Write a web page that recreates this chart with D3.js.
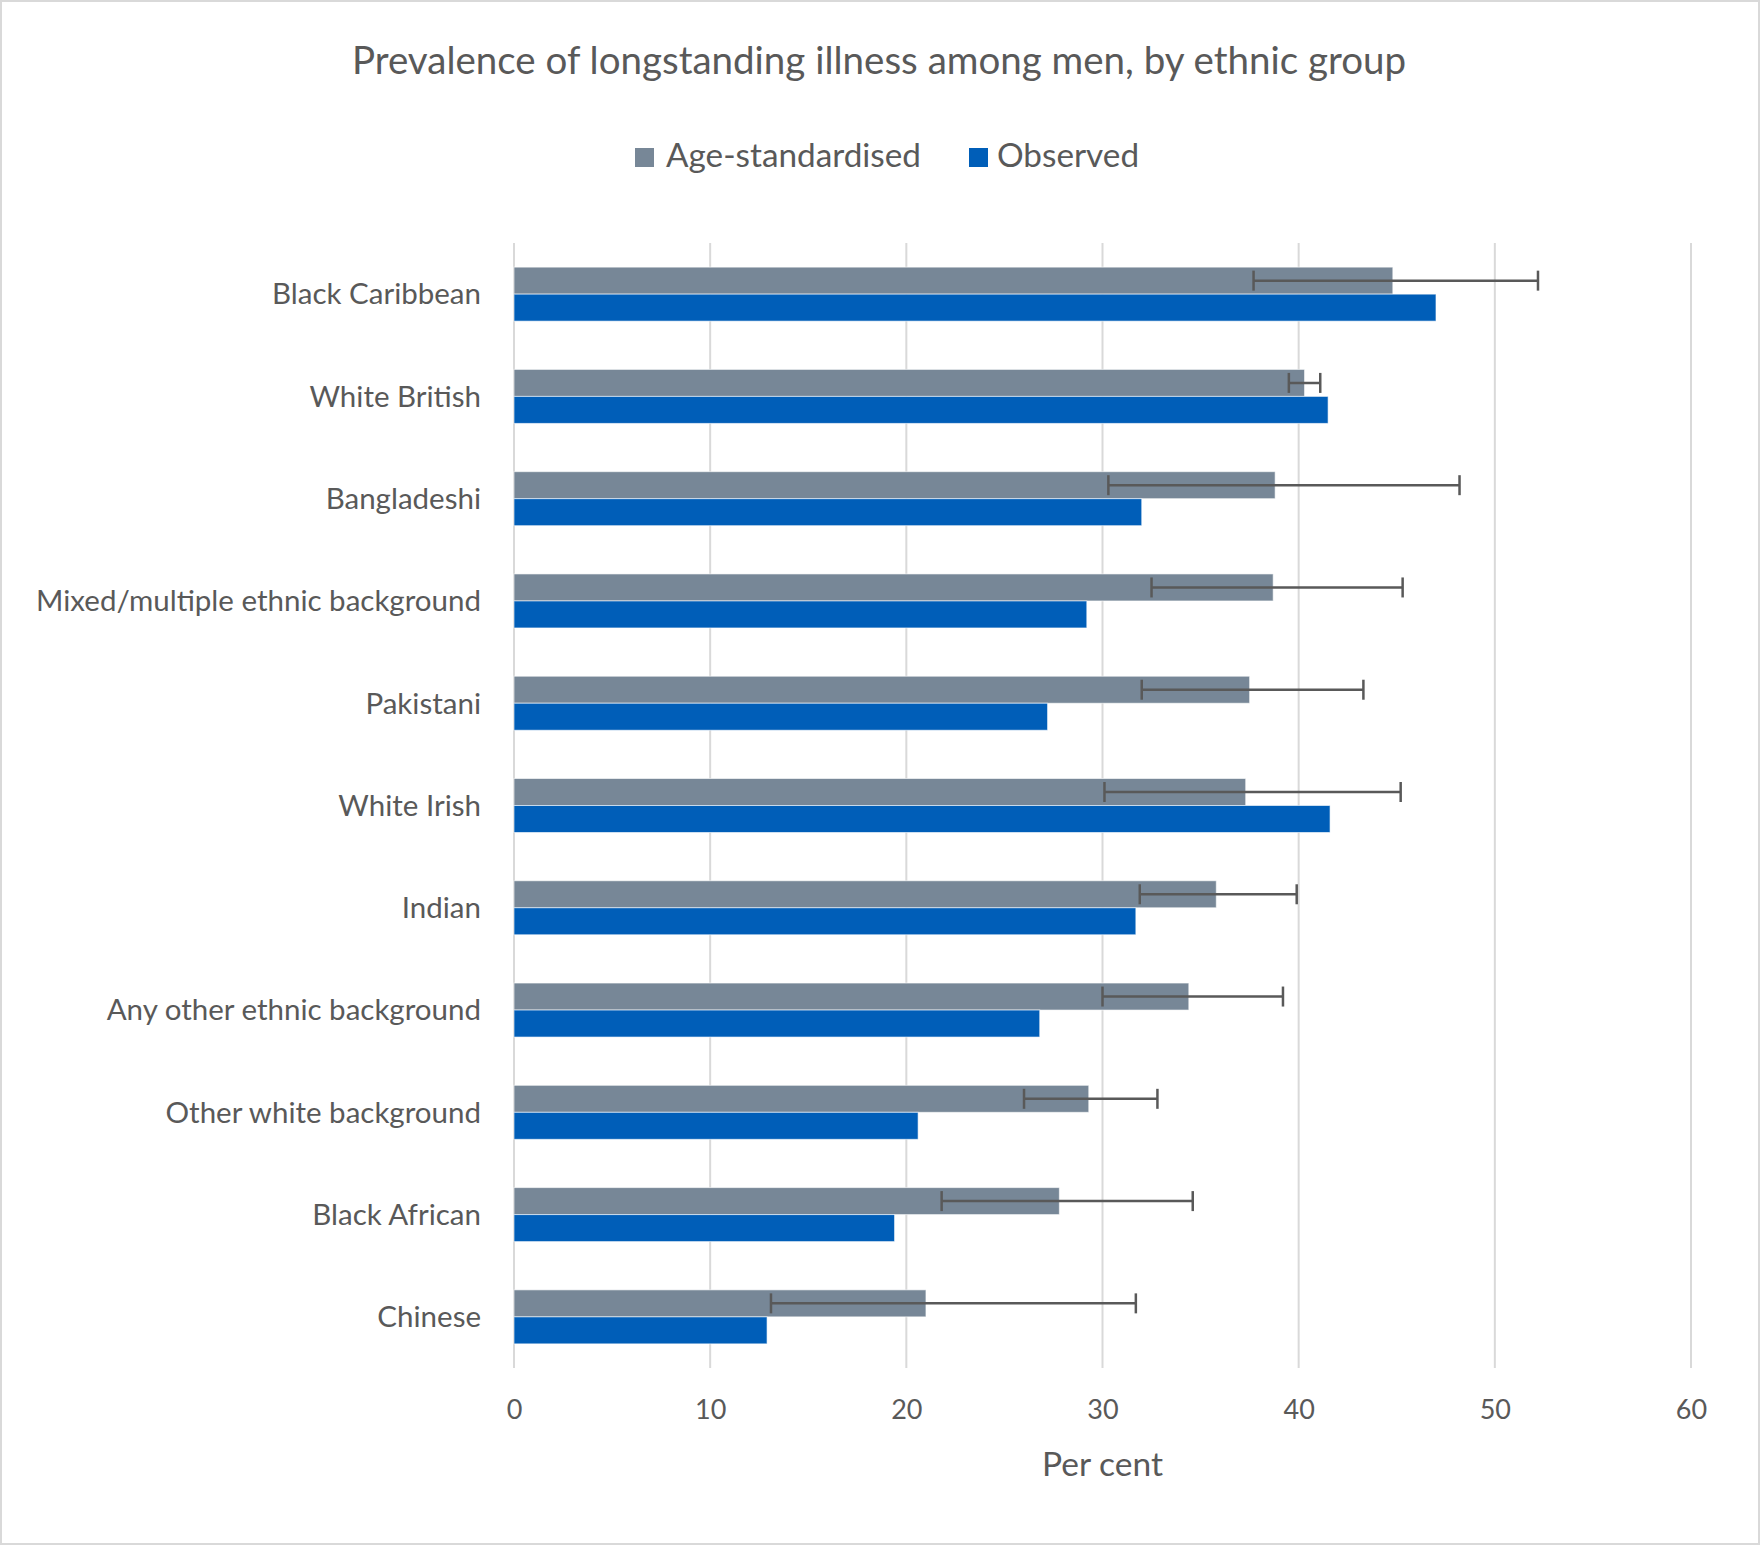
<!DOCTYPE html>
<html>
<head>
<meta charset="utf-8">
<script src="https://cdn.jsdelivr.net/npm/d3@7"></script>
<style>
  html, body { margin: 0; padding: 0; background: #fff; }
  svg { display: block; }
  text { font-family: Lato, "Open Sans", sans-serif; fill: #595959; }
</style>
</head>
<body>
<svg id="chart" width="1760" height="1545"></svg>
<script>
const categories = [
  "Black Caribbean", "White British", "Bangladeshi", "Mixed/multiple ethnic background",
  "Pakistani", "White Irish", "Indian", "Any other ethnic background",
  "Other white background", "Black African", "Chinese"
];
const seriesNames = ["Age-standardised", "Observed"];
const ageStandardised = [44.8, 40.3, 38.8, 38.7, 37.5, 37.3, 35.8, 34.4, 29.3, 27.8, 21.0];
const observed =        [47.0, 41.5, 32.0, 29.2, 27.2, 41.6, 31.7, 26.8, 20.6, 19.4, 12.9];
const ciLower =         [37.7, 39.5, 30.3, 32.5, 32.0, 30.1, 31.9, 30.0, 26.0, 21.8, 13.1];
const ciUpper =         [52.2, 41.1, 48.2, 45.3, 43.3, 45.2, 39.9, 39.2, 32.8, 34.6, 31.7];
const xTicks = [0, 10, 20, 30, 40, 50, 60];
const titleText = "Prevalence of longstanding illness among men, by ethnic group";
const xAxisTitle = "Per cent";

const colors = { "Age-standardised": "#778797", "Observed": "#005EB8" };

const W = 1760, H = 1545;
const svg = d3.select("#chart");

// chart frame
svg.append("rect").attr("x", 1).attr("y", 1).attr("width", W - 2).attr("height", H - 2)
  .attr("fill", "#fff").attr("stroke", "#d9d9d9").attr("stroke-width", 2);

const plot = { left: 514, right: 1691, top: 243, bottom: 1368 };

const x = d3.scaleLinear().domain([0, 60]).range([plot.left, plot.right]);
const y0 = d3.scaleBand().domain(categories).range([plot.top, plot.bottom]).padding(0);
const barH = 27;
const y1 = d3.scaleBand().domain(seriesNames)
  .range([y0.bandwidth() / 2 - barH, y0.bandwidth() / 2 + barH]).padding(0);

// gridlines
svg.append("g").selectAll("line").data(xTicks).join("line")
  .attr("x1", d => x(d)).attr("x2", d => x(d))
  .attr("y1", plot.top).attr("y2", plot.bottom)
  .attr("stroke", "#d9d9d9").attr("stroke-width", 2);

// x axis labels
const xAxis = d3.axisBottom(x).tickValues(xTicks).tickSize(0).tickPadding(0);
const gx = svg.append("g").attr("transform", `translate(0,${plot.bottom})`).call(xAxis);
gx.select(".domain").remove();
gx.selectAll("text").attr("font-size", 27).attr("dy", null).attr("y", 51)
  .style("font-family", "Lato, 'Open Sans', sans-serif").attr("fill", "#595959");

// y axis labels
const yAxis = d3.axisLeft(y0).tickSize(0).tickPadding(0);
const gy = svg.append("g").attr("transform", `translate(481,0)`).call(yAxis);
gy.select(".domain").remove();
gy.selectAll("text").attr("font-size", 29.5).attr("dy", "0.35em").attr("x", 0)
  .style("font-family", "Lato, 'Open Sans', sans-serif").attr("fill", "#595959");

// bars
const rows = categories.map((c, i) => ({
  cat: c,
  vals: [
    { s: "Age-standardised", v: ageStandardised[i] },
    { s: "Observed", v: observed[i] }
  ],
  lo: ciLower[i], hi: ciUpper[i]
}));

const groups = svg.append("g").selectAll("g").data(rows).join("g")
  .attr("transform", d => `translate(0,${y0(d.cat)})`);

groups.selectAll("rect").data(d => d.vals).join("rect")
  .attr("x", x(0))
  .attr("y", d => y1(d.s))
  .attr("width", d => x(d.v) - x(0))
  .attr("height", y1.bandwidth())
  .attr("fill", d => colors[d.s])
  .attr("stroke", "#ffffff").attr("stroke-opacity", 0.6).attr("stroke-width", 1);

// error bars on age-standardised
const eb = groups.append("g").attr("stroke", "#595959").attr("stroke-width", 2.5);
const cy = y1("Age-standardised") + y1.bandwidth() / 2;
eb.append("line").attr("x1", d => x(d.lo)).attr("x2", d => x(d.hi)).attr("y1", cy).attr("y2", cy);
eb.append("line").attr("x1", d => x(d.lo)).attr("x2", d => x(d.lo)).attr("y1", cy - 10).attr("y2", cy + 10);
eb.append("line").attr("x1", d => x(d.hi)).attr("x2", d => x(d.hi)).attr("y1", cy - 10).attr("y2", cy + 10);

// title
svg.append("text").attr("x", 879).attr("y", 74).attr("text-anchor", "middle")
  .attr("font-size", 38.5).text(titleText);

// axis title
svg.append("text").attr("x", (plot.left + plot.right) / 2).attr("y", 1476).attr("text-anchor", "middle")
  .attr("font-size", 33.5).text(xAxisTitle);

// legend
const legendItems = [
  { s: "Age-standardised", sx: 635, tx: 666 },
  { s: "Observed", sx: 969, tx: 997 }
];
const lg = svg.append("g");
lg.selectAll("rect").data(legendItems).join("rect")
  .attr("x", d => d.sx).attr("y", 148).attr("width", 19).attr("height", 19)
  .attr("fill", d => colors[d.s]);
lg.selectAll("text").data(legendItems).join("text")
  .attr("x", d => d.tx).attr("y", 167).attr("font-size", 33.3).text(d => d.s);
</script>
</body>
</html>
